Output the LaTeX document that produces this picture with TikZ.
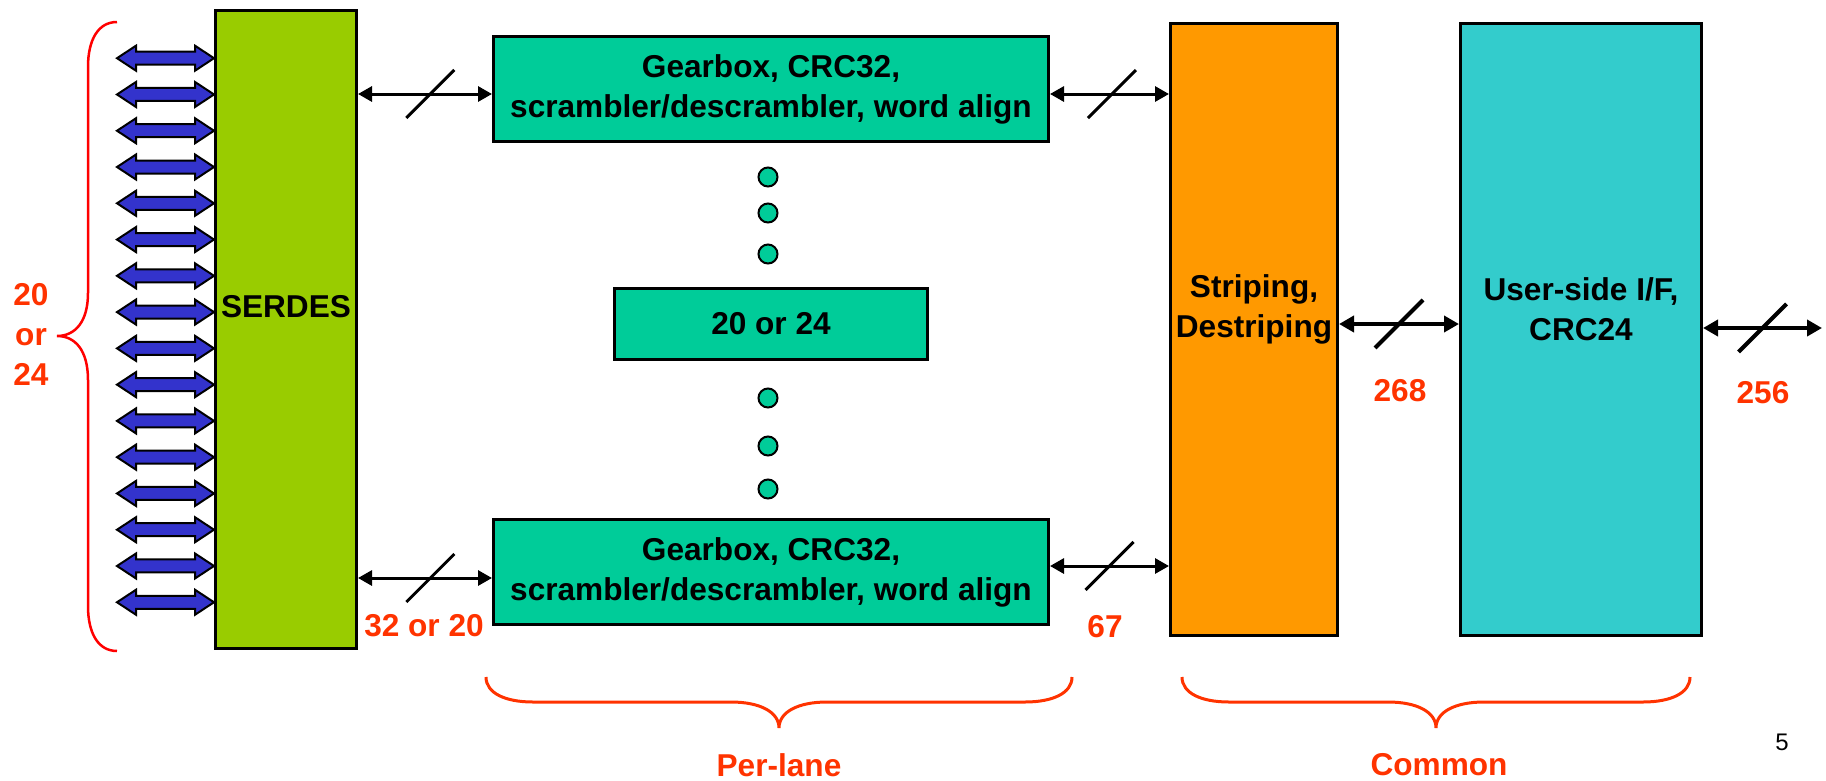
\documentclass[tikz,border=0pt]{standalone}
\usepackage{fontspec}
\setmainfont{Liberation Sans}
\usetikzlibrary{arrows.meta,calc}
\definecolor{serdesgreen}{HTML}{99CC00}
\definecolor{gbgreen}{HTML}{00CC99}
\definecolor{stripeorange}{HTML}{FF9900}
\definecolor{usercyan}{HTML}{33CCCC}
\definecolor{lanes}{HTML}{3333CC}
\definecolor{lblred}{HTML}{FF3300}
\definecolor{bracered}{HTML}{FF0000}
\newcommand\myHBrace[3]{%
  \draw[hbr] (#1,677) .. controls (#1,693) and ({#1+19},702) .. ({#1+47},702)
    -- ({#3-48},702) .. controls ({#3-19},702) and (#3,712) .. (#3,728)
    .. controls (#3,712) and ({#3+19},702) .. ({#3+48},702)
    -- ({#2-47},702) .. controls ({#2-19},702) and (#2,693) .. (#2,677);}
\begin{document}
\begin{tikzpicture}[x=1pt,y=-1pt,
  box/.style={draw=black,line width=3pt,inner sep=0pt},
  txt/.style={font=\bfseries\fontsize{31.6}{40}\selectfont,align=center,inner sep=0pt},
  lbl/.style={font=\bfseries\fontsize{31.6}{40}\selectfont,text=lblred,align=center,inner sep=0pt},
  conn/.style={line width=3pt,{Triangle[length=14pt,width=15pt]}-{Triangle[length=14pt,width=15pt]}},
  connthick/.style={line width=4pt,{Triangle[length=15pt,width=16pt]}-{Triangle[length=15pt,width=16pt]}},
  slash/.style={line width=3pt},
  slashthick/.style={line width=4pt},
  dot/.style={circle,draw=black,line width=2pt,fill=gbgreen,minimum size=19pt,inner sep=0pt},
  lane/.style={draw=black,line width=2pt,fill=lanes,line join=miter},
  hbr/.style={draw=lblred,line width=3pt},
]
\useasboundingbox (0,0) rectangle (1826,780);

% main boxes
\node[box,fill=serdesgreen,minimum width=141pt,minimum height=638pt] (serdes) at (286,329.5) {};
\node[txt] (serdesT) at ([yshift=23pt]serdes.center) {SERDES};
\node[box,fill=gbgreen,minimum width=555pt,minimum height=105pt] (gb1) at (771,89) {};
\node[txt] (gb1T) at (gb1.center) {Gearbox, CRC32,\\scrambler/descrambler, word align};
\node[box,fill=gbgreen,minimum width=555pt,minimum height=105pt] (gb2) at (771,572) {};
\node[txt] (gb2T) at (gb2.center) {Gearbox, CRC32,\\scrambler/descrambler, word align};
\node[box,fill=gbgreen,minimum width=313pt,minimum height=71pt] (mid) at (771,324) {};
\node[txt] (midT) at (mid.center) {20 or 24};
\node[box,fill=stripeorange,minimum width=167pt,minimum height=612pt] (stripe) at (1254,329.5) {};
\node[txt] (stripeT) at ([yshift=20pt]stripe.center) {Striping,\\Destriping};
\node[box,fill=usercyan,minimum width=241pt,minimum height=612pt] (user) at (1581,329.5) {};
\node[txt] (userT) at ([yshift=20pt]user.center) {User-side I/F,\\CRC24};

% dots
\node[dot] (d1) at (768,177) {};
\node[dot] (d2) at (768,213) {};
\node[dot] (d3) at (768,254) {};
\node[dot] (d4) at (768,398) {};
\node[dot] (d5) at (768,446) {};
\node[dot] (d6) at (768,489) {};

% lane arrows
\foreach \i in {0,...,15}{
  \pgfmathsetmacro\yy{58.2+36.27*\i}
  \draw[lane] (117,\yy) -- (136,{\yy-12.5}) -- (136,{\yy-6.5}) -- (195,{\yy-6.5}) -- (195,{\yy-12.5})
    -- (serdes.west |- 0,\yy) -- (195,{\yy+12.5}) -- (195,{\yy+6.5}) -- (136,{\yy+6.5}) -- (136,{\yy+12.5}) -- cycle;
}

% connector levels
\coordinate (yA) at (0,94);
\coordinate (yB) at (0,578);
\coordinate (yC) at (0,566);
\coordinate (yD) at (0,324);
\coordinate (outEnd) at (1822,328);

\draw[conn] (serdes.east |- yA) -- (gb1.west |- yA) coordinate[pos=0.54] (m1);
\draw[slash] ($(m1)+(-24,24)$) -- ($(m1)+(24,-24)$);
\draw[conn] (serdes.east |- yB) -- (gb2.west |- yB) coordinate[pos=0.54] (m2);
\draw[slash] ($(m2)+(-24,24)$) -- ($(m2)+(24,-24)$);
\draw[conn] (gb1.east |- yA) -- (stripe.west |- yA) coordinate[pos=0.52] (m3);
\draw[slash] ($(m3)+(-24,24)$) -- ($(m3)+(24,-24)$);
\draw[conn] (gb2.east |- yC) -- (stripe.west |- yC) coordinate[pos=0.5] (m4);
\draw[slash] ($(m4)+(-24,24)$) -- ($(m4)+(24,-24)$);
\draw[connthick] (stripe.east |- yD) -- (user.west |- yD) coordinate[pos=0.5] (m5);
\draw[slashthick] ($(m5)+(-24,24)$) -- ($(m5)+(24,-24)$);
\draw[connthick] (user.east |- outEnd) -- (outEnd) coordinate[pos=0.5] (m6);
\draw[slashthick] ($(m6)+(-24,24)$) -- ($(m6)+(24,-24)$);

% labels
\node[lbl] (l3220) at (424,626) {32 or 20};
\node[lbl] (l67) at (1105,627) {67};
\node[lbl] (l268) at (1400,391) {268};
\node[lbl] (l256) at (1763,393) {256};
\node[lbl] (l2024) at (31,334) {20\\or\\24};
\node[lbl] (lper) at (779,765) {Per-lane};
\node[lbl] (lcom) at (1439,765) {Common};
\node[font=\fontsize{24}{28}\selectfont,inner sep=0pt] (pg) at (1782,742) {5};

% braces
\draw[draw=bracered,line width=2.5pt] (117,22) .. controls (98,22) and (88,40) .. (88,67) -- (88,293)
  .. controls (88,322) and (75,336) .. (57,336) .. controls (75,336) and (88,350) .. (88,380)
  -- (88,606) .. controls (88,633) and (98,651) .. (117,651);
\myHBrace{486}{1072}{779}
\myHBrace{1182}{1690}{1436}
\end{tikzpicture}
\end{document}
